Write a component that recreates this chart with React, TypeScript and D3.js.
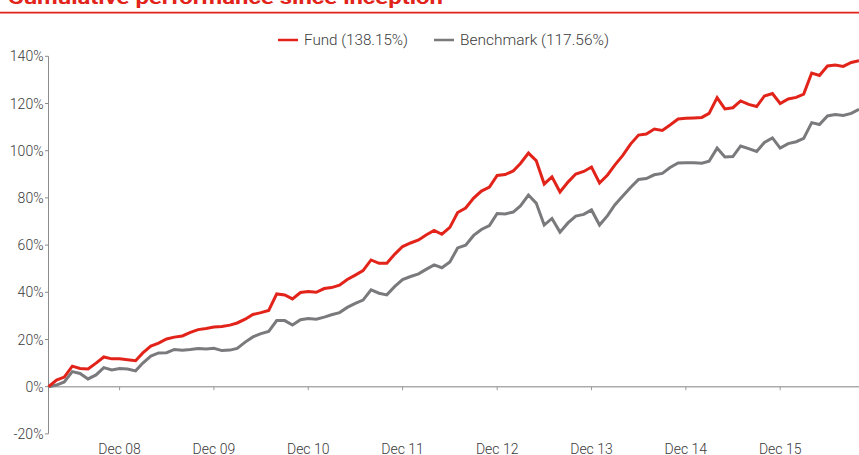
import React from "react";
import * as d3 from "d3";

const startYear = 2008;
const startMonth = 2; // March 2008 (0-based month)

const fundValues: number[] = [
  0, 2.8, 4.1, 8.7, 7.7, 7.5, 10.0, 12.6, 11.8, 11.8,
  11.4, 11.0, 14.3, 17.2, 18.5, 20.2, 21.0, 21.5, 23.0, 24.2,
  24.7, 25.3, 25.5, 26.1, 27.0, 28.6, 30.6, 31.4, 32.3, 39.3,
  38.9, 37.2, 39.9, 40.3, 40.0, 41.6, 42.0, 43.0, 45.4, 47.3,
  49.2, 53.7, 52.3, 52.3, 56.2, 59.4, 60.9, 62.2, 64.3, 66.2,
  64.6, 67.5, 73.8, 75.7, 79.9, 82.9, 84.6, 89.5, 89.9, 91.4,
  94.6, 99.0, 95.8, 85.9, 88.9, 82.5, 86.7, 90.1, 91.2, 93.1,
  86.3, 89.7, 93.9, 98.0, 102.8, 106.6, 107.1, 109.2, 108.6, 110.9,
  113.4, 113.7, 113.9, 114.1, 115.8, 122.5, 117.7, 118.2, 121.1, 119.6,
  118.7, 123.2, 124.2, 120.0, 121.9, 122.6, 124.0, 132.9, 131.9, 135.9,
  136.3, 135.7, 137.4, 138.15,
];

const benchmarkValues: number[] = [
  0, 0.7, 2.0, 6.4, 5.6, 3.3, 5.0, 8.1, 7.1, 7.7,
  7.5, 6.7, 10.0, 13.0, 14.3, 14.4, 15.8, 15.5, 15.8, 16.2,
  16.0, 16.3, 15.3, 15.5, 16.2, 18.9, 21.1, 22.5, 23.4, 28.0,
  28.0, 26.1, 28.4, 28.9, 28.6, 29.5, 30.5, 31.4, 33.6, 35.3,
  36.7, 41.0, 39.6, 38.9, 42.5, 45.4, 46.7, 47.8, 49.7, 51.6,
  50.4, 52.8, 58.8, 60.0, 64.1, 66.6, 68.3, 73.4, 73.2, 74.0,
  76.6, 81.2, 77.8, 68.5, 71.3, 65.5, 69.4, 72.3, 73.0, 74.9,
  68.5, 72.5, 77.0, 80.8, 84.4, 87.8, 88.2, 89.8, 90.4, 92.9,
  94.8, 94.9, 94.9, 94.7, 95.5, 101.1, 97.3, 97.5, 102.0, 100.9,
  99.7, 103.5, 105.4, 101.1, 103.0, 103.8, 105.2, 111.9, 111.1, 114.7,
  115.3, 114.9, 115.8, 117.56,
];

const yTicks: number[] = [-20, 0, 20, 40, 60, 80, 100, 120, 140];
const xTickYears: number[] = [2008, 2009, 2010, 2011, 2012, 2013, 2014, 2015];

const seriesNames: string[] = ["Fund (138.15%)", "Benchmark (117.56%)"];
const titleText = "Cumulative performance since inception";

const RED = "#e2231a";
const GRAY = "#7a7a7d";
const TEXT = "#3a3a3a";
const FONT = "Roboto, 'Open Sans', sans-serif";

export default function App() {
  const W = 859;
  const H = 455;

  const dates = fundValues.map((_, i) => new Date(startYear, startMonth + i, 1));
  const x = d3
    .scaleTime()
    .domain([new Date(startYear, startMonth, 1), new Date(startYear, startMonth + 103, 1)])
    .range([48.5, 859]);
  const y = d3.scaleLinear().domain([-20, 140]).range([433.9, 56.3]);

  const line = d3
    .line<number>()
    .x((_, i) => x(dates[i]))
    .y((d) => y(d))
    .curve(d3.curveLinear);

  const axisX = 48.5;
  const fmt = d3.timeFormat("%b %y");

  return (
    <svg
      width={W}
      height={H}
      style={{ position: "fixed", left: 0, top: 0, background: "#fff" }}
      fontFamily={FONT}
    >
      {/* title (cropped at top) */}
      <text
        x={8}
        y={4}
        fill={RED}
        fontSize={19}
        fontWeight="bold"
        textLength={435}
        lengthAdjust="spacingAndGlyphs"
      >
        {titleText}
      </text>
      <line x1={0} x2={W} y1={12.7} y2={12.7} stroke={RED} strokeWidth={1.8} />

      {/* legend */}
      <g fontWeight={300}>
        <line x1={278} x2={298} y1={40} y2={40} stroke={RED} strokeWidth={2.5} />
        <text x={304} y={45} fontSize={14} fill={TEXT} textLength={104} lengthAdjust="spacingAndGlyphs">
          {seriesNames[0]}
        </text>
        <line x1={434} x2={454} y1={40} y2={40} stroke={GRAY} strokeWidth={2.5} />
        <text x={460} y={45} fontSize={14} fill={TEXT} textLength={149} lengthAdjust="spacingAndGlyphs">
          {seriesNames[1]}
        </text>
      </g>

      {/* y axis */}
      <line x1={axisX} x2={axisX} y1={y(140)} y2={y(-20)} stroke="#8c8c8c" strokeWidth={1} />
      {yTicks.map((t) => (
        <g key={t}>
          <line x1={axisX - 3.5} x2={axisX} y1={y(t)} y2={y(t)} stroke="#8c8c8c" strokeWidth={1} />
          <text x={43.5} y={y(t) + 5} fontSize={14} fontWeight={300} fill={TEXT} textAnchor="end">
            {`${t}%`}
          </text>
        </g>
      ))}

      {/* zero line with ticks */}
      <line x1={axisX} x2={W} y1={y(0)} y2={y(0)} stroke="#ababab" strokeWidth={1.6} />
      {xTickYears.map((yr) => {
        const d = new Date(yr, 11, 1);
        const px = x(d);
        return (
          <g key={yr}>
            <line x1={px} x2={px} y1={y(0)} y2={y(0) + 3.5} stroke="#9a9a9a" strokeWidth={1} />
            <text x={px} y={453.5} fontSize={14} fontWeight={300} fill={TEXT} textAnchor="middle">
              {fmt(d)}
            </text>
          </g>
        );
      })}

      {/* series */}
      <path d={line(benchmarkValues) || ""} fill="none" stroke={GRAY} strokeWidth={3} strokeLinejoin="miter" />
      <path d={line(fundValues) || ""} fill="none" stroke={RED} strokeWidth={3} strokeLinejoin="miter" />
    </svg>
  );
}
